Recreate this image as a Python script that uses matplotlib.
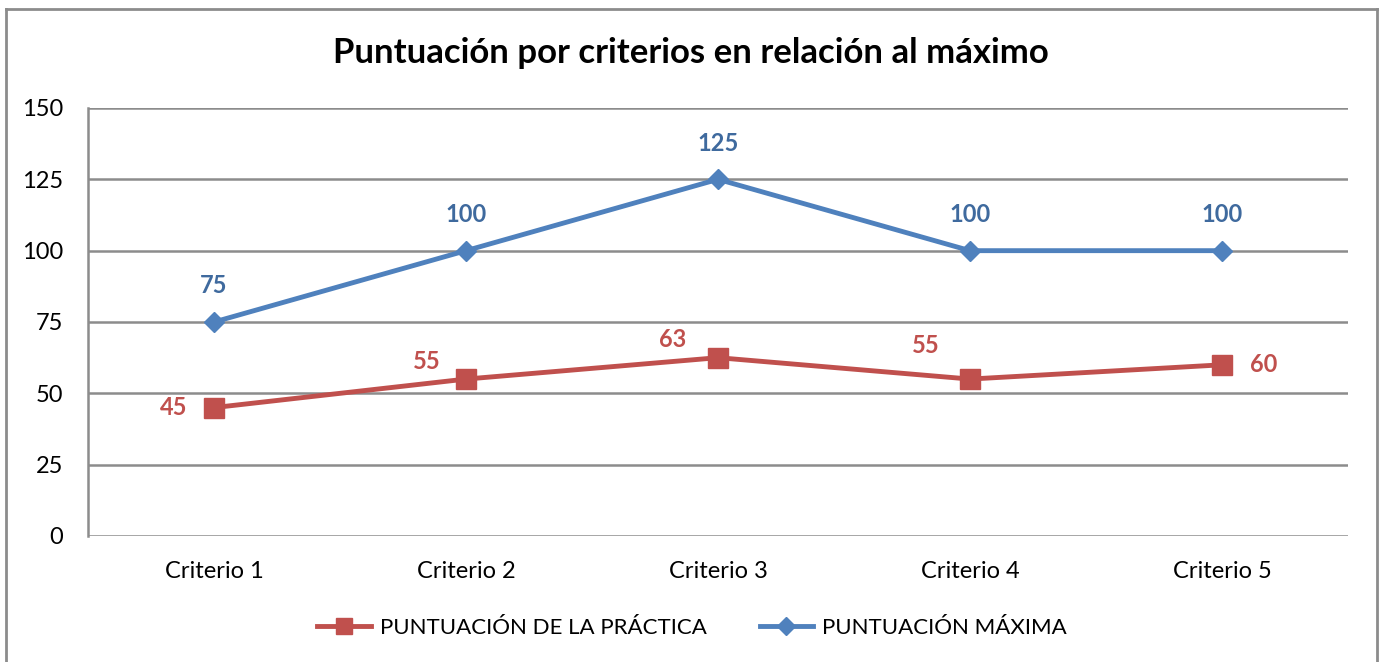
import matplotlib
matplotlib.use("Agg")
import matplotlib.pyplot as plt
from matplotlib.lines import Line2D

categories = ["Criterio 1", "Criterio 2", "Criterio 3", "Criterio 4", "Criterio 5"]
practica = [45, 55, 62.5, 55, 60]
maxima = [75, 100, 125, 100, 100]
yticks = [0, 25, 50, 75, 100, 125, 150]

title = "Puntuación por criterios en relación al máximo"
name_practica = "PUNTUACIÓN DE LA PRÁCTICA"
name_maxima = "PUNTUACIÓN MÁXIMA"

RED = "#C0504D"
BLUE = "#4F81BD"
BLUE_LBL = "#3F6A9E"
GRID = "#8C8C8C"

plt.rcParams['font.family'] = ['Lato', 'DejaVu Sans']

fig = plt.figure(figsize=(13.83, 6.62), dpi=100)
W, H = 1383, 662
ax = fig.add_axes([88 / W, 1 - 536 / H, (1348 - 88) / W, (536 - 108) / H])

# outer frame (no bottom edge visible)
fig.add_artist(Line2D([6 / W, 6 / W], [0, 1 - 9 / H], transform=fig.transFigure, color=GRID, lw=2))
fig.add_artist(Line2D([6 / W, 1377 / W], [1 - 9 / H, 1 - 9 / H], transform=fig.transFigure, color=GRID, lw=2))
fig.add_artist(Line2D([1377 / W, 1377 / W], [0, 1 - 9 / H], transform=fig.transFigure, color=GRID, lw=2))

x = list(range(1, len(categories) + 1))
ax.plot(x, maxima, color=BLUE, lw=3.5, marker='D', ms=10, mec=BLUE, mfc=BLUE, zorder=3)
ax.plot(x, practica, color=RED, lw=3.5, marker='s', ms=14, mec=RED, mfc=RED, zorder=3)

ax.set_xlim(0.5, len(categories) + 0.5)
ax.set_ylim(0, 150)
ax.set_yticks(yticks)
ax.set_yticklabels([str(v) for v in yticks])
ax.set_xticks(x)
ax.set_xticklabels(categories)
ax.tick_params(axis='both', length=0, labelsize=17, colors='#000000')
ax.tick_params(axis='y', pad=18)
ax.tick_params(axis='x', pad=18)
ax.grid(axis='y', color=GRID, lw=1.8)
ax.set_axisbelow(True)
for s in ['top', 'right', 'bottom']:
    ax.spines[s].set_visible(False)
ax.spines['left'].set_color(GRID)
ax.spines['left'].set_linewidth(1.8)

def fmt(v):
    return str(int(v + 0.5))

for xi, v in zip(x, maxima):
    ax.annotate(fmt(v), (xi, v), xytext=(0, 26), textcoords='offset points',
                ha='center', va='center', fontsize=17, fontweight='bold', color=BLUE_LBL)

red_offsets = [(-29, 0), (-28, 13), (-33, 13), (-32, 24), (30, 0)]
for xi, v, off in zip(x, practica, red_offsets):
    ax.annotate(fmt(v), (xi, v), xytext=off, textcoords='offset points',
                ha='center', va='center', fontsize=17, fontweight='bold', color=RED)

fig.text(691 / W, 1 - 53 / H, title, ha='center', va='center', fontsize=25, fontweight='bold')

handles = [Line2D([], [], color=RED, lw=3.5, marker='s', ms=12),
           Line2D([], [], color=BLUE, lw=3.5, marker='D', ms=9)]
fig.legend(handles, [name_practica, name_maxima], loc='center', bbox_to_anchor=(692 / W, 1 - 628 / H),
           ncol=2, frameon=False, fontsize=16, handlelength=2.4, columnspacing=2.4, handletextpad=0.4)

fig.savefig("out.png", dpi=100, facecolor='white')
